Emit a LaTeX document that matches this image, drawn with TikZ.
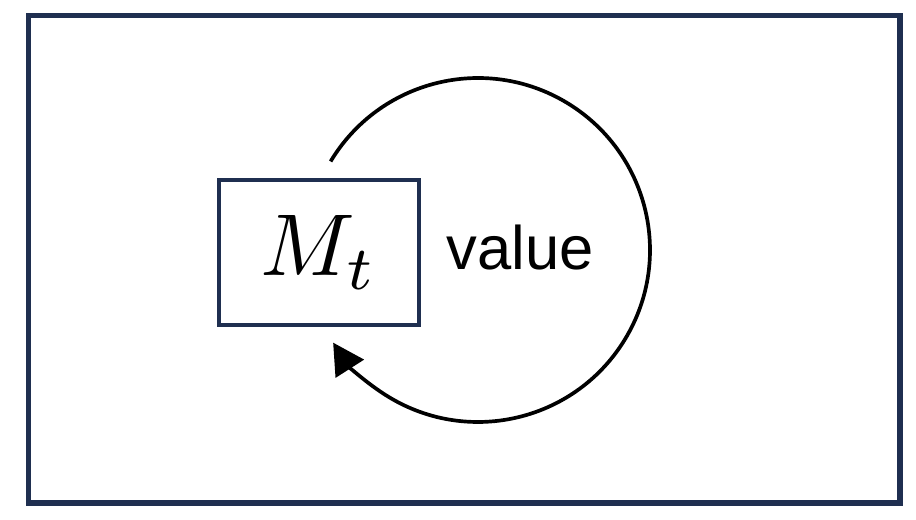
\documentclass[tikz,border=0pt]{standalone}
\usepackage{graphicx}
\usepackage{fontspec}
\newfontfamily\labelfont{Liberation Sans}
\usetikzlibrary{arrows.meta}
\definecolor{framenavy}{HTML}{1F2F50}
\tikzset{
    membox/.style={draw=framenavy, line width=2.6pt, minimum width=4cm, minimum height=2.9cm, inner sep=0pt},
    loopline/.style={line width=2.1pt, -{Triangle[length=0.62cm,width=0.66cm]}}
}
\begin{document}
\begin{tikzpicture}[x=0.02cm,y=0.02cm]
    \useasboundingbox (0,0) rectangle (916,520);
    % frame
    \draw[framenavy, line width=2.9pt] (28.5,17) rectangle (900,504.5);
    % memory
    \node[membox] (mt) at (319,267.5) {\scalebox{5}{$M_t$}};
    % label
    \node[anchor=base, inner sep=0pt] (val) at (520,250) {\labelfont\fontsize{35}{42}\selectfont value};
    % loop back into the memory
    \coordinate (loopc) at (478,270);
    \draw[loopline] ([shift={(149:3.44cm)}]loopc) arc[start angle=149, end angle=-147.4, radius=3.44cm];
\end{tikzpicture}
\end{document}
